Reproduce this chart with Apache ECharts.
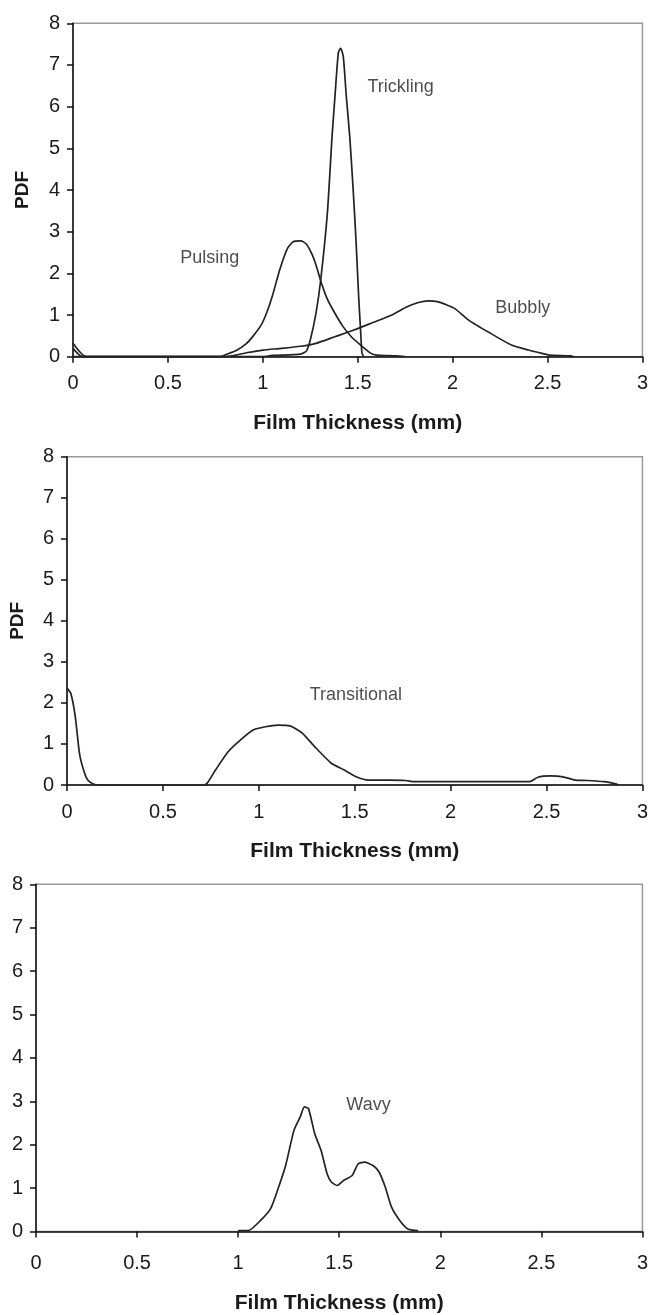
<!DOCTYPE html>
<html>
<head>
<meta charset="utf-8">
<script src="https://cdn.jsdelivr.net/npm/echarts@6/dist/echarts.min.js"></script>
<style>html,body{margin:0;padding:0;background:#fff;}#c{width:651px;height:1315px;}</style>
</head>
<body>
<div id="c"></div>
<script>
// ---- Data (x = film thickness mm, y = PDF) ----
var xTicks = [0, 0.5, 1, 1.5, 2, 2.5, 3];
var yTicks = [0, 1, 2, 3, 4, 5, 6, 7, 8];

var pulsing = [[0,0.32],[0.07,0],[0.78,0],[0.8,0.04],[0.86,0.15],[0.91,0.3],[0.95,0.5],[0.99,0.75],[1.02,1.05],[1.05,1.45],[1.09,2.1],[1.13,2.6],[1.16,2.76],[1.2,2.78],[1.23,2.7],[1.26,2.45],[1.28,2.2],[1.31,1.75],[1.34,1.38],[1.37,1.12],[1.42,0.74],[1.47,0.46],[1.52,0.26],[1.57,0.08],[1.6,0.04],[1.7,0.02],[1.75,0]];
var bubbly = [[0,0.2],[0.05,0],[0.8,0],[0.86,0.04],[0.92,0.1],[1.0,0.16],[1.1,0.2],[1.2,0.25],[1.28,0.32],[1.38,0.48],[1.48,0.64],[1.58,0.82],[1.68,1.0],[1.76,1.2],[1.82,1.3],[1.87,1.34],[1.92,1.32],[1.97,1.24],[2.01,1.16],[2.09,0.86],[2.2,0.56],[2.31,0.28],[2.4,0.16],[2.47,0.08],[2.51,0.04],[2.62,0.02],[2.64,0]];
var trickling = [[0,0],[1.0,0],[1.05,0.03],[1.2,0.06],[1.23,0.14],[1.25,0.4],[1.28,1.04],[1.305,1.84],[1.34,3.44],[1.365,5.3],[1.38,6.24],[1.398,7.3],[1.41,7.4],[1.424,7.2],[1.44,6.24],[1.458,5.28],[1.475,4.08],[1.49,2.88],[1.505,1.44],[1.515,0.64],[1.522,0.1],[1.53,0]];
var transitional = [[0,2.36],[0.02,2.23],[0.043,1.67],[0.065,0.77],[0.086,0.37],[0.108,0.12],[0.14,0.02],[0.17,0],[0.71,0],[0.73,0.04],[0.775,0.37],[0.84,0.81],[0.905,1.1],[0.97,1.34],[1.034,1.42],[1.1,1.46],[1.163,1.44],[1.228,1.26],[1.292,0.93],[1.378,0.53],[1.443,0.37],[1.508,0.2],[1.572,0.12],[1.68,0.12],[1.766,0.11],[1.81,0.08],[2.02,0.08],[2.41,0.08],[2.455,0.19],[2.52,0.22],[2.585,0.2],[2.65,0.12],[2.71,0.11],[2.8,0.08],[2.865,0.02],[2.875,0]];
var wavy = [[1.0,0.02],[1.05,0.02],[1.11,0.25],[1.16,0.52],[1.2,1.02],[1.235,1.52],[1.276,2.33],[1.307,2.64],[1.328,2.87],[1.348,2.83],[1.379,2.25],[1.41,1.87],[1.44,1.33],[1.461,1.14],[1.49,1.06],[1.523,1.18],[1.564,1.29],[1.594,1.56],[1.625,1.6],[1.667,1.52],[1.697,1.37],[1.728,1.02],[1.759,0.56],[1.8,0.25],[1.84,0.06],[1.89,0.02]];

// curve labels: [name, x, y, panel]
var curveLabels = [
  ['Trickling', 1.726, 6.47, 0],
  ['Pulsing', 0.72, 2.37, 0],
  ['Bubbly', 2.37, 1.17, 0],
  ['Transitional', 1.506, 2.19, 1],
  ['Wavy', 1.645, 2.92, 2]
];

var xTitle = 'Film Thickness (mm)';
var yTitle = 'PDF';

var FONT = "'Liberation Sans', Arial, sans-serif";
var chart = echarts.init(document.getElementById('c'));

var grids = [
  {left: 73, right: 8, top: 23.3, bottom: 958.3},
  {left: 66.7, right: 4.5, top: 456.7, bottom: 530},
  {left: 36, right: 5.5, top: 884.3, bottom: 83.5}
];
grids.forEach(function(g){ g.show = true; g.borderColor = '#999'; g.borderWidth = 1.5; g.backgroundColor = 'transparent'; });

var xLabelMargin = [17, 17, 22];
var xNameGap = [56, 56, 61];
var yNames = [yTitle, yTitle, ''];
var yNameGap = [41, 40, 40];

function xAxis(i){
  return {
    type: 'value', gridIndex: i, min: 0, max: 3, interval: 0.5,
    name: xTitle, nameLocation: 'middle', nameGap: xNameGap[i],
    nameTextStyle: {fontFamily: FONT, fontSize: 21, fontWeight: 'bold', color: '#1a1a1a'},
    axisLine: {show: true, onZero: false, lineStyle: {color: '#111', width: 1.5}},
    axisTick: {show: true, inside: false, length: 6, lineStyle: {color: '#111', width: 1.5}},
    axisLabel: {margin: xLabelMargin[i], fontFamily: FONT, fontSize: 20, color: '#1a1a1a',
      formatter: function(v){ return String(v); }},
    splitLine: {show: false}
  };
}
function yAxis(i){
  return {
    type: 'value', gridIndex: i, min: 0, max: 8, interval: 1,
    name: yNames[i], nameLocation: 'middle', nameGap: yNameGap[i],
    nameTextStyle: {fontFamily: FONT, fontSize: 19, fontWeight: 'bold', color: '#1a1a1a'},
    axisLine: {show: true, onZero: false, lineStyle: {color: '#111', width: 1.5}},
    axisTick: {show: true, inside: false, length: 6, lineStyle: {color: '#111', width: 1.5}},
    axisLabel: {margin: 13, fontFamily: FONT, fontSize: 20, color: '#1a1a1a'},
    splitLine: {show: false}
  };
}

function lineSeries(data, i){
  return {
    type: 'line', xAxisIndex: i, yAxisIndex: i, data: data,
    showSymbol: false, symbol: 'none', smooth: 0.2,
    lineStyle: {color: '#222', width: 1.7}, silent: true, z: 3
  };
}

var series = [
  lineSeries(pulsing, 0),
  lineSeries(bubbly, 0),
  lineSeries(trickling, 0),
  lineSeries(transitional, 1),
  lineSeries(wavy, 2)
];
curveLabels.forEach(function(l){
  series.push({
    type: 'scatter', xAxisIndex: l[3], yAxisIndex: l[3], symbolSize: 0, silent: true,
    data: [[l[1], l[2]]],
    label: {show: true, position: 'inside', formatter: l[0], fontFamily: FONT, fontSize: 18, color: '#222'}
  });
});

chart.setOption({
  animation: false,
  backgroundColor: '#fff',
  grid: grids,
  xAxis: [xAxis(0), xAxis(1), xAxis(2)],
  yAxis: [yAxis(0), yAxis(1), yAxis(2)],
  series: series
});
</script>
</body>
</html>
